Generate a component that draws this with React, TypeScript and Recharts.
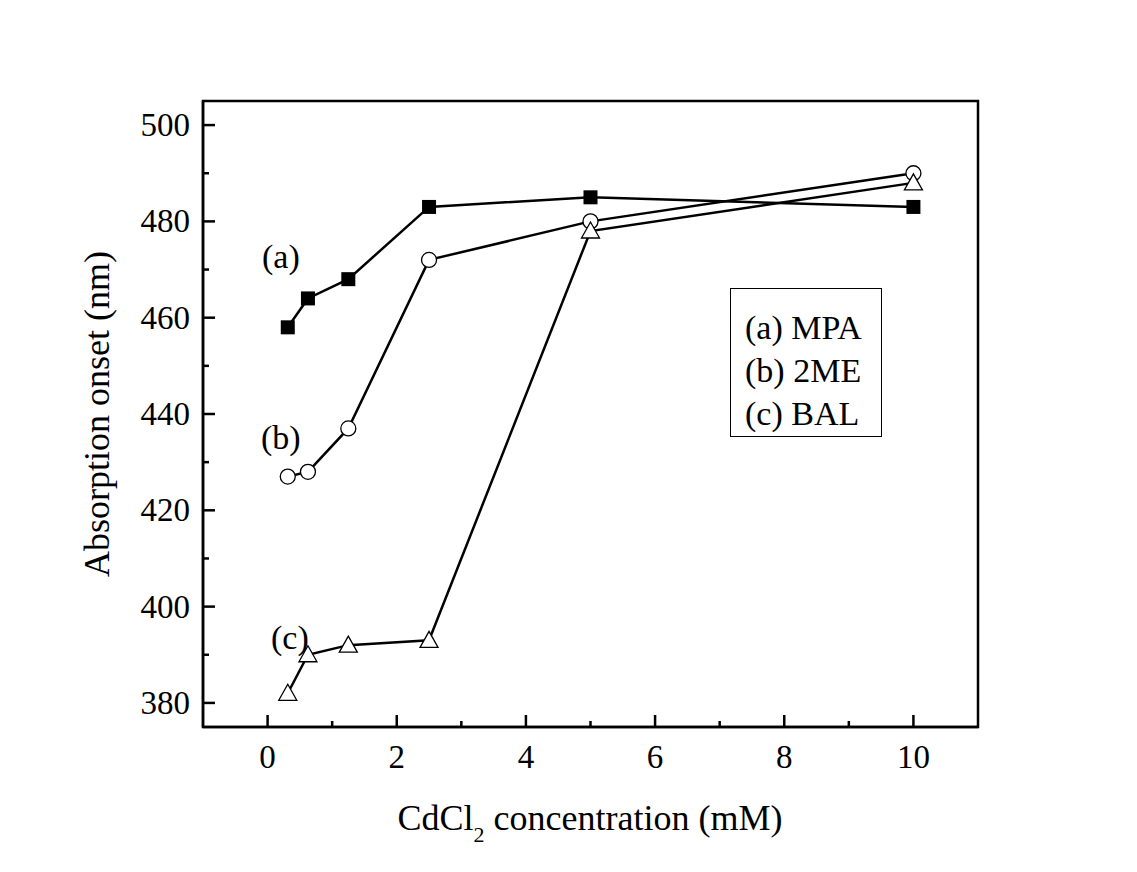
import React from 'react';
import { LineChart, Line, XAxis, YAxis, ReferenceArea } from 'recharts';

const concentrations = [0.3125, 0.625, 1.25, 2.5, 5, 10];
const mpaOnset = [458, 464, 468, 483, 485, 483];
const meOnset = [427, 428, 437, 472, 480, 490];
const balOnset = [382, 390, 392, 393, 478, 488];
const xTicks = [0, 1, 2, 3, 4, 5, 6, 7, 8, 9, 10];
const yTicks = [380, 390, 400, 410, 420, 430, 440, 450, 460, 470, 480, 490, 500];
const legendItems = ['(a) MPA', '(b) 2ME', '(c) BAL'];

const data = concentrations.map((c, i) => ({ c, mpa: mpaOnset[i], me: meOnset[i], bal: balOnset[i] }));

const FONT = '"Liberation Serif", "Times New Roman", serif';

const XTick = (props: any) => {
  const { x, y, payload } = props;
  const major = payload.value % 2 === 0;
  return (
    <g>
      <line x1={x} x2={x} y1={y} y2={y - (major ? 12 : 6)} stroke="#000" strokeWidth={2.5} />
      {major && (
        <text x={x} y={y + 41} textAnchor="middle" fontFamily={FONT} fontSize={33} fill="#000">
          {payload.value}
        </text>
      )}
    </g>
  );
};

const YTick = (props: any) => {
  const { x, y, payload } = props;
  const major = payload.value % 20 === 0;
  return (
    <g>
      <line x1={x} x2={x + (major ? 12 : 6)} y1={y} y2={y} stroke="#000" strokeWidth={2.5} />
      {major && (
        <text x={x - 13} y={y + 11} textAnchor="end" fontFamily={FONT} fontSize={33} fill="#000">
          {payload.value}
        </text>
      )}
    </g>
  );
};

const Square = (props: any) => {
  const { cx, cy } = props;
  return <rect x={cx - 7} y={cy - 7} width={14} height={14} fill="#000" />;
};
const Circle = (props: any) => {
  const { cx, cy } = props;
  return <circle cx={cx} cy={cy} r={7.5} fill="#fff" stroke="#000" strokeWidth={1.3} />;
};
const Triangle = (props: any) => {
  const { cx, cy } = props;
  return (
    <polygon
      points={`${cx},${cy - 9} ${cx - 9},${cy + 7} ${cx + 9},${cy + 7}`}
      fill="#fff"
      stroke="#000"
      strokeWidth={1.3}
    />
  );
};

const textStyle: React.CSSProperties = {
  position: 'absolute',
  fontFamily: FONT,
  color: '#000',
  whiteSpace: 'nowrap',
  lineHeight: 1,
};

export default function App() {
  return (
    <div style={{ position: 'relative', width: 1129, height: 864 }}>
      <LineChart
        width={1129}
        height={864}
        data={data}
        margin={{ top: 93, right: 159, left: 135, bottom: 105 }}
      >
        <XAxis
          dataKey="c"
          type="number"
          domain={[-1, 11]}
          ticks={xTicks}
          interval={0}
          tickSize={0}
          tickMargin={0}
          tickLine={false}
          tick={<XTick />}
          height={40}
          axisLine={{ stroke: '#000', strokeWidth: 2.5 }}
          allowDataOverflow
        />
        <YAxis
          type="number"
          domain={[375, 505]}
          ticks={yTicks}
          interval={0}
          tickSize={0}
          tickMargin={0}
          tickLine={false}
          tick={<YTick />}
          width={60}
          axisLine={{ stroke: '#000', strokeWidth: 2.5 }}
          allowDataOverflow
        />
        <ReferenceArea x1={-1} x2={11} y1={375} y2={505} fill="none" fillOpacity={0} stroke="#000" strokeWidth={2.5} ifOverflow="visible" />
        <Line dataKey="mpa" stroke="#000" strokeWidth={2.5} dot={<Square />} isAnimationActive={false} />
        <Line dataKey="me" stroke="#000" strokeWidth={2.5} dot={<Circle />} isAnimationActive={false} />
        <Line dataKey="bal" stroke="#000" strokeWidth={2.5} dot={<Triangle />} isAnimationActive={false} />
      </LineChart>

      <div style={{ ...textStyle, left: 0, top: 0, width: 1129, height: 864, pointerEvents: 'none' }}>
        <div style={{ ...textStyle, fontSize: 34, left: 254, top: 232 }}>(a)</div>
        <div style={{ ...textStyle, fontSize: 34, left: 253, top: 413 }}>(b)</div>
        <div style={{ ...textStyle, fontSize: 34, left: 263, top: 613 }}>(c)</div>

        <div
          style={{
            position: 'absolute',
            left: 722,
            top: 280,
            width: 152,
            height: 149,
            border: '1.5px solid #000',
            boxSizing: 'border-box',
            fontFamily: FONT,
            fontSize: 34,
            paddingLeft: 14,
            paddingTop: 17,
          }}
        >
          {legendItems.map((t) => (
            <div key={t} style={{ lineHeight: '43px', height: 43, whiteSpace: 'nowrap' }}>
              {t}
            </div>
          ))}
        </div>

        <div style={{ ...textStyle, fontSize: 36, left: 582, top: 792, transform: 'translateX(-50%)' }}>
          CdCl<sub style={{ fontSize: 22, verticalAlign: -12 }}>2</sub> concentration (mM)
        </div>
        <div
          style={{
            ...textStyle,
            fontSize: 36,
            left: 89,
            top: 406,
            transform: 'translate(-50%, -50%) rotate(-90deg)',
          }}
        >
          Absorption onset (nm)
        </div>
      </div>
    </div>
  );
}
